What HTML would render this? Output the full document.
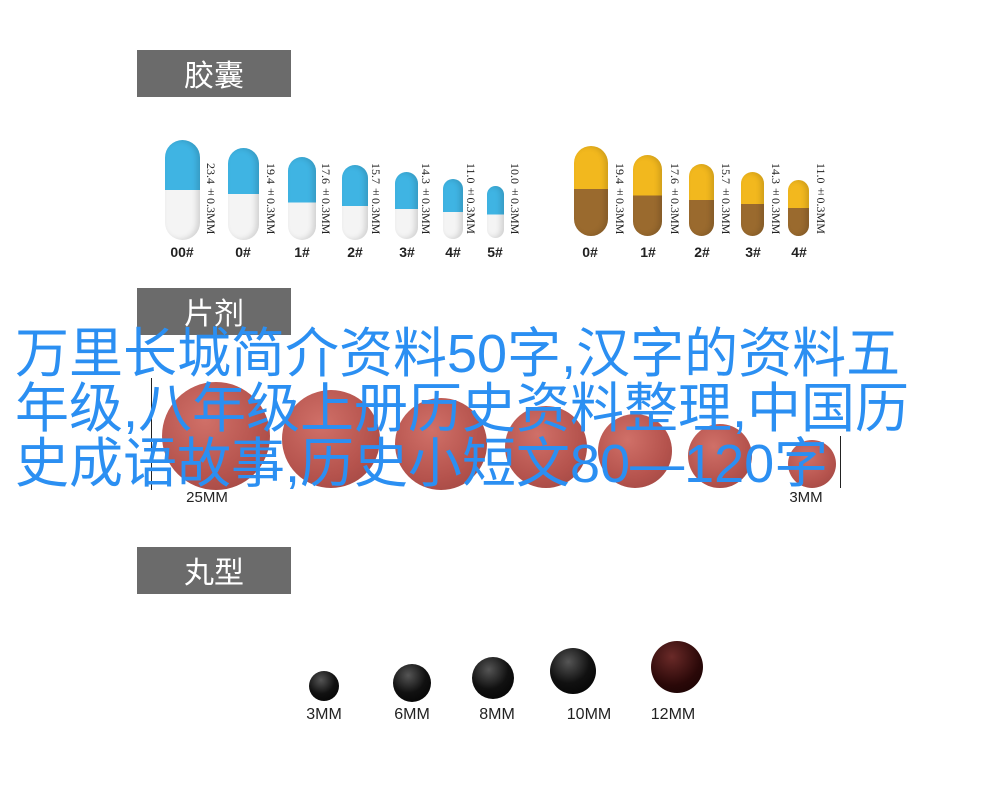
<!DOCTYPE html>
<html><head><meta charset="utf-8"><style>
body{margin:0;width:1000px;height:803px;background:#fff;position:relative;overflow:hidden;font-family:"Liberation Sans","Noto Sans CJK SC",sans-serif}
.hd{position:absolute;left:137px;width:154px;height:47px;background:#6b6b6b;color:#fff;font-size:30px;line-height:47px;text-align:center;font-family:"Noto Sans CJK SC",sans-serif}
.cap{position:absolute;border-radius:999px;overflow:hidden;box-shadow:inset -3px 0 6px rgba(0,0,0,.15)}
.vt{position:absolute;writing-mode:vertical-rl;font-family:"Liberation Serif",serif;font-size:12px;color:#222;white-space:nowrap}
.lb{position:absolute;font-weight:bold;font-size:14px;color:#222;transform:translateX(-50%)}
.tb{position:absolute;border-radius:50%;background:radial-gradient(circle at 40% 35%,#d07068,#b5534d 60%,#9a4440);}
.bl{position:absolute;border-radius:50%;background:radial-gradient(circle at 40% 30%,#555,#111 50%,#000)}
.ml{position:absolute;font-size:16px;color:#222;transform:translateX(-50%)}
.big{position:absolute;left:15px;top:327px;font-size:54px;line-height:55px;color:#2b8ff2;font-family:"Liberation Sans","Noto Sans CJK SC",sans-serif;white-space:nowrap}
</style></head><body>
<div class="hd" style="top:50px">胶囊</div>
<div class="hd" style="top:288px">片剂</div>
<div class="hd" style="top:547px">丸型</div>

<div class="cap" style="left:165px;top:140px;width:35px;height:100px;background:linear-gradient(#3fb4e3 50%,#f4f4f4 50%)"></div>
<div class="cap" style="left:228px;top:148px;width:31px;height:92px;background:linear-gradient(#3fb4e3 50%,#f4f4f4 50%)"></div>
<div class="cap" style="left:288px;top:157px;width:28px;height:83px;background:linear-gradient(#3fb4e3 55%,#f4f4f4 55%)"></div>
<div class="cap" style="left:342px;top:165px;width:26px;height:75px;background:linear-gradient(#3fb4e3 55%,#f4f4f4 55%)"></div>
<div class="cap" style="left:395px;top:172px;width:23px;height:67px;background:linear-gradient(#3fb4e3 55%,#f4f4f4 55%)"></div>
<div class="cap" style="left:443px;top:179px;width:20px;height:60px;background:linear-gradient(#3fb4e3 55%,#f4f4f4 55%)"></div>
<div class="cap" style="left:487px;top:186px;width:17px;height:52px;background:linear-gradient(#3fb4e3 55%,#f4f4f4 55%)"></div>
<div class="vt" style="left:203px;top:163px">23.4±0.3MM</div>
<div class="vt" style="left:263px;top:163px">19.4±0.3MM</div>
<div class="vt" style="left:318px;top:163px">17.6±0.3MM</div>
<div class="vt" style="left:368px;top:163px">15.7±0.3MM</div>
<div class="vt" style="left:418px;top:163px">14.3±0.3MM</div>
<div class="vt" style="left:463px;top:163px">11.0±0.3MM</div>
<div class="vt" style="left:507px;top:163px">10.0±0.3MM</div>
<div class="lb" style="left:182px;top:244px">00#</div>
<div class="lb" style="left:243px;top:244px">0#</div>
<div class="lb" style="left:302px;top:244px">1#</div>
<div class="lb" style="left:355px;top:244px">2#</div>
<div class="lb" style="left:407px;top:244px">3#</div>
<div class="lb" style="left:453px;top:244px">4#</div>
<div class="lb" style="left:495px;top:244px">5#</div>

<div class="cap" style="left:574px;top:146px;width:34px;height:90px;background:linear-gradient(#f2b81e 48%,#9a6a2e 48%)"></div>
<div class="cap" style="left:633px;top:155px;width:29px;height:81px;background:linear-gradient(#f2b81e 50%,#9a6a2e 50%)"></div>
<div class="cap" style="left:689px;top:164px;width:25px;height:72px;background:linear-gradient(#f2b81e 50%,#9a6a2e 50%)"></div>
<div class="cap" style="left:741px;top:172px;width:23px;height:64px;background:linear-gradient(#f2b81e 50%,#9a6a2e 50%)"></div>
<div class="cap" style="left:788px;top:180px;width:21px;height:56px;background:linear-gradient(#f2b81e 50%,#9a6a2e 50%)"></div>
<div class="vt" style="left:612px;top:163px">19.4±0.3MM</div>
<div class="vt" style="left:667px;top:163px">17.6±0.3MM</div>
<div class="vt" style="left:718px;top:163px">15.7±0.3MM</div>
<div class="vt" style="left:768px;top:163px">14.3±0.3MM</div>
<div class="vt" style="left:813px;top:163px">11.0±0.3MM</div>
<div class="lb" style="left:590px;top:244px">0#</div>
<div class="lb" style="left:648px;top:244px">1#</div>
<div class="lb" style="left:702px;top:244px">2#</div>
<div class="lb" style="left:753px;top:244px">3#</div>
<div class="lb" style="left:799px;top:244px">4#</div>

<div class="tb" style="left:162px;top:382px;width:108px;height:108px"></div>
<div class="tb" style="left:282px;top:390px;width:98px;height:98px"></div>
<div class="tb" style="left:395px;top:398px;width:92px;height:92px"></div>
<div class="tb" style="left:505px;top:406px;width:82px;height:82px"></div>
<div class="tb" style="left:598px;top:414px;width:74px;height:74px"></div>
<div class="tb" style="left:688px;top:424px;width:64px;height:64px"></div>
<div class="tb" style="left:788px;top:440px;width:48px;height:48px"></div>
<div style="position:absolute;left:151px;top:378px;width:1px;height:112px;background:#222"></div>
<div style="position:absolute;left:840px;top:436px;width:1px;height:52px;background:#222"></div>
<div class="ml" style="left:207px;top:489px;font-size:15px">25MM</div>
<div class="ml" style="left:806px;top:489px;font-size:15px">3MM</div>

<div class="big">万里长城简介资料50字,汉字的资料五<br>年级,八年级上册历史资料整理,中国历<br>史成语故事,历史小短文80—120字</div>

<div class="bl" style="left:309px;top:671px;width:30px;height:30px"></div>
<div class="bl" style="left:393px;top:664px;width:38px;height:38px"></div>
<div class="bl" style="left:472px;top:657px;width:42px;height:42px"></div>
<div class="bl" style="left:550px;top:648px;width:46px;height:46px"></div>
<div class="bl" style="left:651px;top:641px;width:52px;height:52px;background:radial-gradient(circle at 40% 30%,#6a2a28,#2a0808 60%,#150303)"></div>
<div class="ml" style="left:324px;top:706px">3MM</div>
<div class="ml" style="left:412px;top:706px">6MM</div>
<div class="ml" style="left:497px;top:706px">8MM</div>
<div class="ml" style="left:589px;top:706px">10MM</div>
<div class="ml" style="left:673px;top:706px">12MM</div>
</body></html>
